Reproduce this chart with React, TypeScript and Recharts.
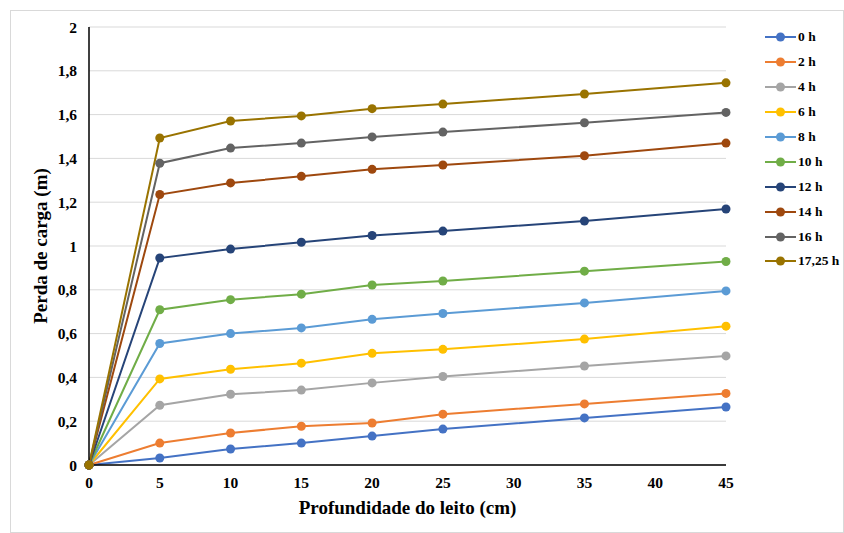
import React from 'react';
import { LineChart, Line, XAxis, YAxis, CartesianGrid, Legend } from 'recharts';

const depths = [0, 5, 10, 15, 20, 25, 35, 45];
const seriesNames = ['0 h', '2 h', '4 h', '6 h', '8 h', '10 h', '12 h', '14 h', '16 h', '17,25 h'];
const s0h = [0, 0.032, 0.073, 0.1, 0.132, 0.164, 0.215, 0.265];
const s2h = [0, 0.1, 0.146, 0.177, 0.192, 0.232, 0.279, 0.327];
const s4h = [0, 0.273, 0.323, 0.342, 0.375, 0.404, 0.452, 0.498];
const s6h = [0, 0.393, 0.437, 0.465, 0.51, 0.528, 0.575, 0.634];
const s8h = [0, 0.555, 0.6, 0.626, 0.665, 0.692, 0.74, 0.795];
const s10h = [0, 0.709, 0.755, 0.78, 0.822, 0.84, 0.885, 0.929];
const s12h = [0, 0.945, 0.986, 1.017, 1.048, 1.068, 1.114, 1.169];
const s14h = [0, 1.235, 1.288, 1.318, 1.35, 1.37, 1.412, 1.47];
const s16h = [0, 1.378, 1.447, 1.47, 1.498, 1.52, 1.563, 1.61];
const s1725h = [0, 1.493, 1.571, 1.594, 1.627, 1.648, 1.694, 1.745];
const allSeries = [s0h, s2h, s4h, s6h, s8h, s10h, s12h, s14h, s16h, s1725h];
const colors = ['#4472C4', '#ED7D31', '#A5A5A5', '#FFC000', '#5B9BD5', '#70AD47', '#264478', '#9E480E', '#636363', '#997300'];
const xTicks = [0, 5, 10, 15, 20, 25, 30, 35, 40, 45];
const yTicks = [0, 0.2, 0.4, 0.6, 0.8, 1, 1.2, 1.4, 1.6, 1.8, 2];

const data = depths.map((d, i) => {
  const row: Record<string, number> = { x: d };
  seriesNames.forEach((n, k) => {
    row[n] = allSeries[k][i];
  });
  return row;
});

const FONT = 'Liberation Serif';
const fmt = (v: number) => String(v).replace('.', ',');

const renderLegend = () => (
  <div style={{ fontFamily: FONT, fontWeight: 'bold', fontSize: 13.5, color: '#000' }}>
    {seriesNames.map((n, i) => (
      <div key={n} style={{ display: 'flex', alignItems: 'center', height: 24.9, whiteSpace: 'nowrap' }}>
        <svg width={33} height={12} style={{ display: 'block', flexShrink: 0 }}>
          <line x1={0} y1={6} x2={31} y2={6} stroke={colors[i]} strokeWidth={2} />
          <circle cx={15.5} cy={6} r={4.5} fill={colors[i]} />
        </svg>
        <span style={{ marginLeft: 0, fontFamily: FONT }}>{n}</span>
      </div>
    ))}
  </div>
);

export default function App() {
  return (
    <div
      style={{
        position: 'fixed',
        left: 10,
        top: 10,
        width: 834,
        height: 523,
        border: '1px solid #d9d9d9',
        boxSizing: 'border-box',
        background: '#fff',
        fontFamily: FONT,
      }}
    >
      <LineChart
        width={834}
        height={523}
        data={data}
        margin={{ top: 17, right: 28, bottom: 0, left: 0 }}
        style={{ position: 'absolute', left: -1, top: -1, fontFamily: FONT }}
      >
        <CartesianGrid vertical={false} stroke="#d9d9d9" strokeWidth={1} />
        <XAxis
          type="number"
          dataKey="x"
          domain={[0, 45]}
          ticks={xTicks}
          interval={0}
          height={68}
          tickSize={0}
          tickMargin={12}
          stroke="#000"
          strokeWidth={1.5}
          tick={{ fill: '#000', fontFamily: FONT, fontWeight: 'bold', fontSize: 15.5 }}
          label={{
            value: 'Profundidade do leito (cm)',
            position: 'insideBottom',
            offset: 19,
            fill: '#000',
            fontFamily: FONT,
            fontWeight: 'bold',
            fontSize: 19,
          }}
        />
        <YAxis
          type="number"
          domain={[0, 2]}
          ticks={yTicks}
          interval={0}
          width={79}
          tickSize={0}
          tickMargin={12}
          stroke="#000"
          strokeWidth={1.5}
          tickFormatter={fmt}
          tick={{ fill: '#000', fontFamily: FONT, fontWeight: 'bold', fontSize: 15.5 }}
          label={{
            value: 'Perda de carga (m)',
            angle: -90,
            position: 'center',
            dx: -9,
            fill: '#000',
            fontFamily: FONT,
            fontWeight: 'bold',
            fontSize: 19,
          }}
        />
        <Legend
          content={renderLegend}
          layout="horizontal"
          verticalAlign="middle"
          align="right"
          wrapperStyle={{ position: 'absolute', left: 755, top: 15, width: 90 }}
        />
        {seriesNames.map((n, i) => (
          <Line
            key={n}
            type="linear"
            dataKey={n}
            stroke={colors[i]}
            strokeWidth={2}
            dot={{ r: 4.5, fill: colors[i], stroke: 'none' }}
            activeDot={false}
            isAnimationActive={false}
          />
        ))}
      </LineChart>
    </div>
  );
}
